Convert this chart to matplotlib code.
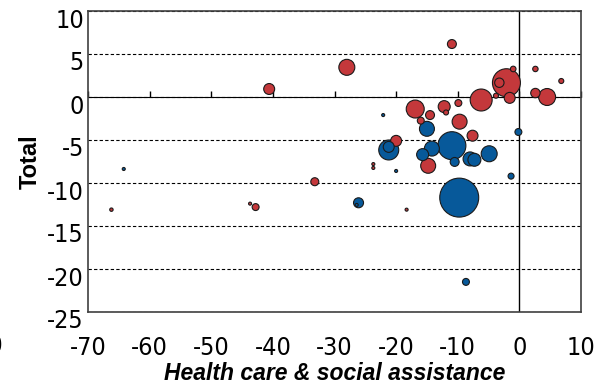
import numpy as np
import matplotlib
matplotlib.use("Agg")
import matplotlib.pyplot as plt
from matplotlib import font_manager as fm
from matplotlib.transforms import ScaledTranslation

plt.rcParams["axes.unicode_minus"] = False

# sectors that gained / lost (red / blue): x = health care & social assistance, y = total
red_x = [-66.2, -43.7, -42.8, -40.6, -28.0, -33.2, -18.3, -23.7, -23.7, -10.95,
         -16.9, -14.5, -12.2, -11.9, -9.9, -9.7, -16.0, -7.6, -20.0, -14.8,
         -6.2, -3.8, -1.57, -2.1, -3.25, -1.0, 2.6, 6.8, 2.6, 4.5]
red_y = [-13.1, -12.4, -12.8, 0.93, 3.45, -9.85, -13.1, -7.8, -8.25, 6.16,
         -1.4, -2.1, -1.12, -1.8, -0.7, -2.87, -2.75, -4.5, -5.1, -8.0,
         -0.35, 0.15, -0.1, 1.66, 1.66, 3.26, 3.26, 1.86, 0.46, 0.0]
red_w = [2.9, 2.3, 12, 30, 64, 16, 2.3, 2.3, 2.3, 20,
         81, 20, 36, 6.3, 12, 56, 12, 30, 30, 56,
         121, 6.3, 30, 196, 22, 7.8, 7.3, 6.3, 22, 72]

blue_x = [-64.2, -26.1, -26.4, -22.1, -15.0, -0.16, -10.95, -14.2, -21.2, -21.2,
          -15.7, -4.9, -8.0, -7.3, -10.5, -20.0, -1.35, -9.76, -8.67]
blue_y = [-8.37, -12.3, -12.55, -2.1, -3.7, -4.07, -5.66, -6.0, -6.16, -5.8,
          -6.7, -6.6, -7.2, -7.3, -7.55, -8.6, -9.2, -11.7, -21.5]
blue_w = [2.3, 25, 2.3, 2.3, 56, 12, 196, 56, 100, 30,
          36, 64, 49, 42, 20, 2.3, 9, 380, 12]

x_ticks = [-70, -60, -50, -40, -30, -20, -10, 0, 10]
y_ticks = [10, 5, 0, -5, -10, -15, -20, -25]

RED = "#C4383B"
BLUE = "#07599A"

# narrow font for the tick labels if one is installed
narrow = [f for f in fm.fontManager.ttflist
          if ("Narrow" in f.name or "Condensed" in f.name or f.stretch == "condensed")
          and f.weight in (400, "normal", "regular") and f.style == "normal"]
if narrow:
    tick_fp = fm.FontProperties(fname=narrow[0].fname, size=18)
else:
    tick_fp = fm.FontProperties(family="Liberation Sans", size=15.5)

fig = plt.figure(figsize=(6.01, 3.87), dpi=100)
ax = fig.add_axes([88 / 601, 1 - 312 / 387, 493 / 601, 301 / 387])

# draw big bubbles first so small ones stay visible
xs = np.array(red_x + blue_x)
ys = np.array(red_y + blue_y)
ws = np.array(red_w + blue_w)
cs = np.array([RED] * len(red_x) + [BLUE] * len(blue_x))
order = np.argsort(-ws)
ax.scatter(xs[order], ys[order], s=ws[order] * 2.07, c=cs[order],
           edgecolors="#1a1a1a", linewidths=0.8, zorder=3)

ax.set_xlim(-70, 10)
ax.set_ylim(-25, 10)
ax.set_xticks(x_ticks)
ax.set_yticks(y_ticks)
ax.grid(axis="y", linestyle=(0, (3, 2)), color="black", linewidth=0.8)
ax.set_axisbelow(True)
ax.axvline(0, color="black", linewidth=1.0, zorder=2)

# x axis line crossing at y = 0 with downward ticks
sec = ax.secondary_xaxis(25 / 35)
sec.set_xticks(x_ticks)
sec.tick_params(direction="out", length=4, width=1, labelbottom=False,
                labeltop=False, color="black")
sec.spines["bottom"].set_color("black")
sec.spines["top"].set_color("black")

for s in ax.spines.values():
    s.set_color("#404040")
    s.set_linewidth(1.2)

ax.tick_params(axis="both", length=0)
ax.tick_params(axis="x", pad=17)
ax.tick_params(axis="y", pad=3)
for lab in ax.get_xticklabels() + ax.get_yticklabels():
    lab.set_fontproperties(tick_fp)
shift = ScaledTranslation(0, -0.07, fig.dpi_scale_trans)
for lab in ax.get_yticklabels():
    lab.set_transform(lab.get_transform() + shift)

ax.set_ylabel("Total", fontsize=17, fontweight="bold", family="Liberation Sans")
ax.yaxis.set_label_coords(-46 / 493, 0.5)
ax.set_xlabel("Health care & social assistance", fontsize=16.5,
              fontweight="bold", style="italic", family="Liberation Sans")
ax.xaxis.set_label_coords(0.5, -50 / 301)

# clipped label of neighbouring tick at the left edge
fig.text(3.5 / 601, 1 - 346 / 387, "-80", ha="right", va="center",
         fontproperties=tick_fp)

fig.savefig("out.png", dpi=100)
